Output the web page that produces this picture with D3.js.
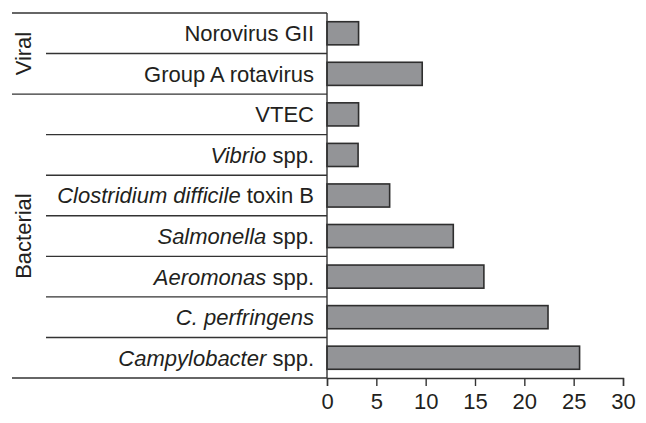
<!DOCTYPE html>
<html>
<head>
<meta charset="utf-8">
<script src="https://cdn.jsdelivr.net/npm/d3@7"></script>
<style>
  body { margin: 0; background: #fff; }
  svg text { font-family: "Liberation Sans", Arial, sans-serif; fill: #231f20; }
</style>
</head>
<body>
<div id="chart"></div>
<script>
const categories = ["Norovirus GII", "Group A rotavirus", "VTEC", "Vibrio spp.",
  "Clostridium difficile toxin B", "Salmonella spp.", "Aeromonas spp.",
  "C. perfringens", "Campylobacter spp."];
const italicParts = ["", "", "", "Vibrio", "Clostridium difficile", "Salmonella",
  "Aeromonas", "C. perfringens", "Campylobacter"];
const values = [3.2, 9.65, 3.2, 3.15, 6.35, 12.8, 15.9, 22.4, 25.6];
const groups = [
  {name: "Viral", first: "Norovirus GII", last: "Group A rotavirus"},
  {name: "Bacterial", first: "VTEC", last: "Campylobacter spp."}
];
const xTicks = [0, 5, 10, 15, 20, 25, 30];

const W = 646, H = 423;
const margin = {top: 13, right: 23, bottom: 45, left: 327};
const width = W - margin.left - margin.right;
const height = H - margin.top - margin.bottom;
const ink = "#333";
const fontSize = "22px";

const svg = d3.select("#chart").append("svg")
  .attr("width", W).attr("height", H);
const g = svg.append("g")
  .attr("transform", `translate(${margin.left},${margin.top})`);

const y = d3.scaleBand().domain(categories).range([0, height]).padding(0);
const x = d3.scaleLinear().domain([0, 30]).range([0, width]);

// row separator lines; group boundaries run further left
const groupEdges = new Set();
groups.forEach(gr => { groupEdges.add(y(gr.first)); groupEdges.add(y(gr.last) + y.bandwidth()); });
const edges = categories.map(c => y(c)).concat([height]);
g.selectAll(".sep")
  .data(edges)
  .enter().append("line")
  .attr("class", "sep")
  .attr("x1", d => groupEdges.has(d) ? 12 - margin.left : 46 - margin.left)
  .attr("x2", 0)
  .attr("y1", d => d).attr("y2", d => d)
  .attr("stroke", ink).attr("stroke-width", 1.4);

// bars
const barH = y.bandwidth() * 0.57;
g.selectAll(".bar")
  .data(categories.map((c, i) => ({c, v: values[i]})))
  .enter().append("rect")
  .attr("class", "bar")
  .attr("x", 0)
  .attr("y", d => y(d.c) + (y.bandwidth() - barH) / 2)
  .attr("width", d => x(d.v))
  .attr("height", barH)
  .attr("fill", "#939497")
  .attr("stroke", "#2e2e2e")
  .attr("stroke-width", 1.6);

// category labels with italic parts
categories.forEach((c, i) => {
  const t = g.append("text")
    .attr("x", -13)
    .attr("y", y(c) + y.bandwidth() / 2)
    .attr("dy", "0.36em")
    .attr("text-anchor", "end")
    .style("font-size", fontSize);
  const it = italicParts[i];
  if (it && c.startsWith(it)) {
    t.append("tspan").style("font-style", "italic").text(it);
    t.append("tspan").text(c.slice(it.length));
  } else {
    t.text(c);
  }
});

// group labels
groups.forEach(gr => {
  const cy = (y(gr.first) + y(gr.last) + y.bandwidth()) / 2;
  g.append("text")
    .attr("transform", `translate(${31 - margin.left},${cy}) rotate(-90)`)
    .attr("text-anchor", "middle")
    .style("font-size", fontSize)
    .text(gr.name);
});

// vertical axis line
g.append("line")
  .attr("x1", 0).attr("x2", 0)
  .attr("y1", 0).attr("y2", height)
  .attr("stroke", ink).attr("stroke-width", 1.4);

// x axis
const xAxis = g.append("g")
  .attr("transform", `translate(0,${height})`)
  .call(d3.axisBottom(x).tickValues(xTicks).tickSize(8).tickPadding(7));
xAxis.select(".domain").attr("stroke", ink).attr("stroke-width", 1.4);
xAxis.selectAll(".tick line").attr("stroke", ink).attr("stroke-width", 1.4);
xAxis.selectAll(".tick text")
  .style("font-size", fontSize)
  .style("font-family", "Liberation Sans, Arial, sans-serif")
  .attr("fill", "#231f20");
</script>
</body>
</html>
